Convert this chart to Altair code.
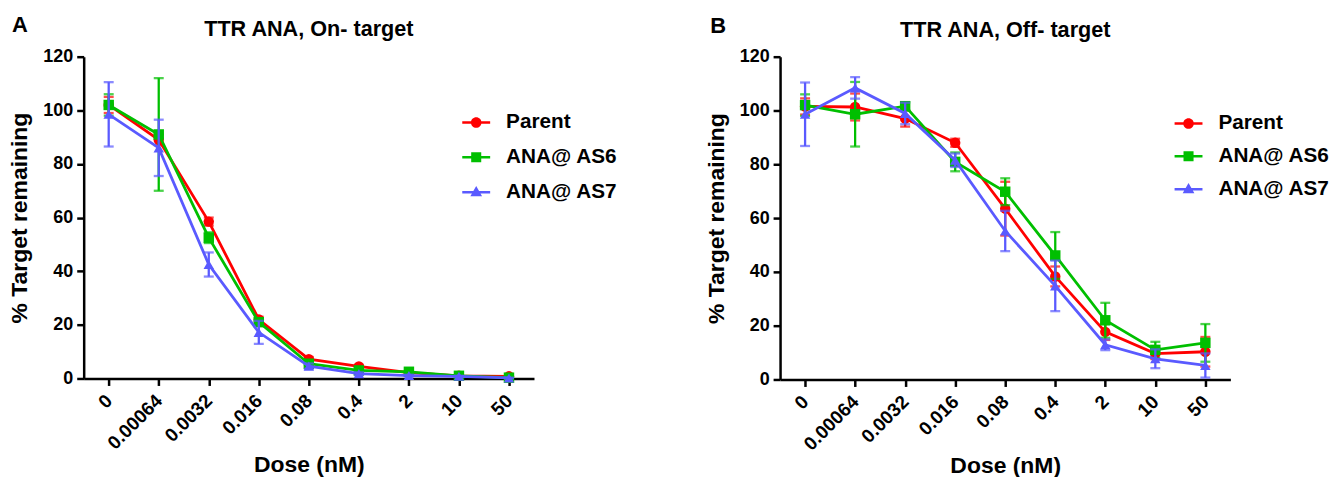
import altair as alt
import pandas as pd

doses = ["0", "0.00064", "0.0032", "0.016", "0.08", "0.4", "2", "10", "50"]
series = ["Parent", "ANA@ AS6", "ANA@ AS7"]
colors = ["#FF0000", "#00BF00", "#5A5AFF"]
shapes = ["circle", "square", "triangle-up"]

# legend symbols: line segment + marker (filled paths, same winding)
legend_paths = [
    "M-1,-0.09H1V0.09H-1Z M0.38,0A0.38,0.38 0 1,1 -0.38,0A0.38,0.38 0 1,1 0.38,0Z",
    "M-1,-0.09H1V0.09H-1Z M-0.36,-0.36H0.36V0.36H-0.36Z",
    "M-1,-0.09H1V0.09H-1Z M0,-0.45L0.42,0.3H-0.42Z",
]

# Panel A: On-target
on_parent = [102, 89, 58.5, 22, 7.2, 4.5, 2.2, 1.0, 0.8]
on_parent_err = [3, 2, 1.5, 1, 0.8, 0.6, 0.4, 0.3, 0.3]
on_as6 = [102, 91, 52.5, 21, 5.5, 3, 2.5, 1.0, 0.3]
on_as6_err = [4, 21, 2, 1, 0.5, 0.4, 0.4, 0.3, 0.2]
on_as7 = [98.5, 86, 42.5, 17.2, 4.6, 1.8, 1.1, 0.8, 0.2]
on_as7_err = [12, 10.5, 4.5, 4.3, 1, 0.5, 0.3, 0.2, 0.1]

# Panel B: Off-target
off_parent = [101.5, 101.3, 97, 88, 63.5, 38.3, 17.7, 9.6, 10.3]
off_parent_err = [3, 5, 3, 1.5, 10, 3.7, 3, 2, 5.5]
off_as6 = [102, 98.6, 101.6, 80.9, 69.8, 46.1, 22, 11, 13.6]
off_as6_err = [4, 12, 1.5, 3.5, 5, 8.7, 6.5, 3, 7]
off_as7 = [98.6, 108.4, 98.9, 81.5, 55.2, 34.8, 12.9, 7.7, 5.2]
off_as7_err = [11.8, 4, 4, 2.5, 7.5, 9.4, 2, 3.5, 4.5]

FONT = "Liberation Sans"


def make_df(vals_list, errs_list):
    rows = []
    for s, vals, errs in zip(series, vals_list, errs_list):
        for d, v, e in zip(doses, vals, errs):
            rows.append({"series": s, "dose": d, "value": v,
                         "lo": max(v - e, 0), "hi": v + e})
    return pd.DataFrame(rows)


def panel(df, title, letter, width, height, leg_x, leg_y, row_pad,
          letter_x, letter_y, title_dy):
    xaxis = alt.Axis(labelAngle=-45, labelAlign="right", labelBaseline="middle",
                     labelPadding=12, labelFontSize=19,
                     titleBaseline="alphabetic", titleY=93)
    yaxis = alt.Axis(values=[0, 20, 40, 60, 80, 100, 120], labelPadding=4,
                     titleX=-57, titleBaseline="alphabetic")
    x = alt.X("dose:O", sort=doses, scale=alt.Scale(type="point", padding=0.5),
              axis=xaxis, title="Dose (nM)")
    yscale = alt.Scale(domain=[0, 120], nice=False, zero=True)

    def Y(field):
        return alt.Y(field, scale=yscale, axis=yaxis, title="% Target remaining")

    layers = []
    for s, c, sh in zip(series, colors, shapes):
        base = alt.Chart(df[df["series"] == s])
        layers.append(base.mark_line(color=c, strokeWidth=2.8).encode(x=x, y=Y("value:Q")))
        layers.append(base.mark_rule(color=c, strokeWidth=2.3).encode(
            x=x, y=Y("lo:Q"), y2="hi:Q"))
        layers.append(base.mark_tick(color=c, size=10, thickness=2.3).encode(x=x, y=Y("lo:Q")))
        layers.append(base.mark_tick(color=c, size=10, thickness=2.3).encode(x=x, y=Y("hi:Q")))
        layers.append(base.mark_point(filled=True, color=c, shape=sh, size=110,
                                      opacity=1).encode(x=x, y=Y("value:Q")))

    leg = alt.Legend(orient="none", legendX=leg_x, legendY=leg_y, title=None,
                     padding=0, rowPadding=row_pad, symbolSize=784,
                     labelFontSize=20.8, labelFont=FONT, labelFontWeight="bold",
                     labelColor="black", labelOffset=16, symbolStrokeWidth=0,
                     symbolOpacity=1, labelLimit=400)
    legend_layer = alt.Chart(df).mark_point(filled=True, opacity=0).encode(
        x=x, y=Y("value:Q"),
        color=alt.Color("series:N", scale=alt.Scale(domain=series, range=colors), legend=leg),
        shape=alt.Shape("series:N", scale=alt.Scale(domain=series, range=legend_paths), legend=leg),
    )
    layers.append(legend_layer)

    letter_layer = alt.Chart(pd.DataFrame({"t": [letter]})).mark_text(
        font=FONT, fontSize=22, fontWeight="bold", align="left",
        baseline="alphabetic", color="black").encode(
        text="t:N", x=alt.value(letter_x), y=alt.value(letter_y))
    layers.append(letter_layer)

    return alt.layer(*layers).properties(
        width=width, height=height,
        title=alt.TitleParams(title, font=FONT, fontSize=21.7, fontWeight="bold",
                              color="black", anchor="middle", baseline="alphabetic",
                              offset=18, frame="group", dy=title_dy),
    )


df_on = make_df([on_parent, on_as6, on_as7], [on_parent_err, on_as6_err, on_as7_err])
df_off = make_df([off_parent, off_as6, off_as7], [off_parent_err, off_as6_err, off_as7_err])

p1 = panel(df_on, "TTR ANA, On- target", "A", 452, 323, 380, 52, 11, -72, -25, 62)
p2 = panel(df_off, "TTR ANA, Off- target", "B", 452, 324, 396, 53, 9, -70, -24, 62)

chart = alt.hconcat(p1, p2, spacing=88).resolve_scale(
    color="independent", shape="independent"
).resolve_legend(color="independent", shape="independent").properties(
    padding={"left": 9, "top": 13, "right": 0, "bottom": 0},
    background="white",
).configure_view(stroke=None).configure_axis(
    domainColor="black", domainWidth=2.5, tickColor="black", tickWidth=2.5,
    tickSize=7, labelFont=FONT, labelFontSize=18, labelFontWeight="bold",
    labelColor="black", titleFont=FONT, titleFontSize=23, titleFontWeight="bold",
    titleColor="black", grid=False,
)

chart.save("out.html", embed_options={"renderer": "svg", "actions": False})
